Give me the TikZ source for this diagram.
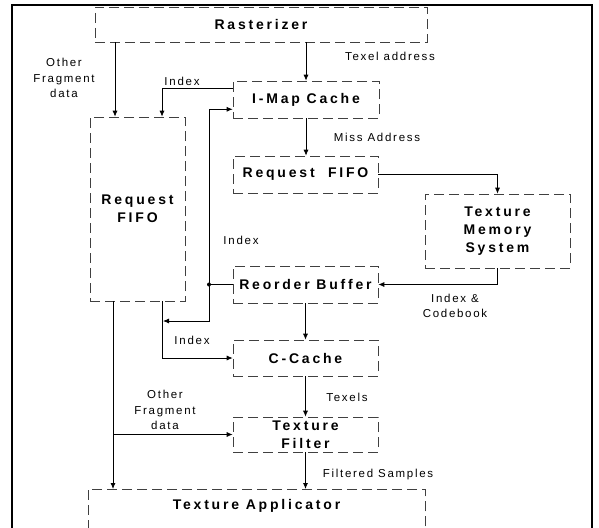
\documentclass[tikz,border=0pt]{standalone}
\usepackage{fontspec}
\setmainfont{Liberation Sans}
\newfontfamily\blockfont{Liberation Sans}[LetterSpace=20]
\newfontfamily\labelfont{Liberation Sans}[LetterSpace=15]
\usepackage{tikz}
\usetikzlibrary{
  arrows.meta,
  positioning,
  calc
}
\tikzstyle{blockbox} = [
  rectangle, draw=black!75, dash pattern=on 10pt off 5pt, line width=0.6pt,
  align=center, inner sep=0pt,
  font=\fontsize{14}{18}\selectfont\blockfont\bfseries
]
\tikzstyle{sigtext} = [
  align=center, inner sep=0pt,
  font=\fontsize{11.5}{15.5}\selectfont\labelfont
]
\tikzstyle{arrowstyle} = [-{Latex[length=6pt,width=5pt]}, line width=0.8pt]

\begin{document}
\begin{tikzpicture}[x=1pt, y=-1pt]
\useasboundingbox (0,0) rectangle (599,527);

% --- Frame ---
\draw[line width=1.5pt] (12,5) rectangle (592,545);

% --- Nodes ---
\node[blockbox, minimum width=332pt, minimum height=35pt] (raster) at (261,24.5) {Rasterizer};
\node[blockbox, minimum width=146pt, minimum height=37pt] (imap) at (306,99.5) {I-Map Cache};
\node[blockbox, minimum width=95pt, minimum height=184pt] (reqbig) at (137.5,209) {Request\\FIFO};
\node[blockbox, minimum width=145pt, minimum height=37pt] (reqsmall) at (305.5,174.5) {Request~~FIFO};
\node[blockbox, minimum width=145pt, minimum height=74pt] (tms) at (497.5,231) {Texture\\Memory\\System};
\node[blockbox, minimum width=145pt, minimum height=37pt] (reorder) at (305.5,284.5) {Reorder Buffer};
\node[blockbox, minimum width=145pt, minimum height=36pt] (ccache) at (305.5,358) {C-Cache};
\node[blockbox, minimum width=145pt, minimum height=35pt] (filter) at (305.5,434.5) {Texture\\Filter};
\node[blockbox, anchor=north, minimum width=337pt, text height=20pt, text depth=40pt] (applic) at (256.5,489) {Texture Applicator};

% --- Columns ---
\coordinate (ofdcol) at (115,0);
\coordinate (idxcol) at (162,0);
\coordinate (fbcol) at (209,0);
\coordinate (lowcol) at (113,0);
\coordinate (jn) at (fbcol |- reorder.west);
\coordinate (idxhit) at (163,321);

% --- Arrows ---
\draw[arrowstyle] (raster.south -| ofdcol) -- (reqbig.north -| ofdcol);
\draw[arrowstyle] (raster.south -| imap.north) -- (imap.north);
\draw[arrowstyle] ([yshift=-8pt]imap.north west) -| (reqbig.north -| idxcol);
\draw[arrowstyle] (reorder.west) -- (jn) |- ([yshift=9pt]imap.south west);
\fill (jn) circle (2pt);
\draw[arrowstyle] (jn) |- (idxhit);
\draw[arrowstyle] (reqbig.south -| idxcol) |- (ccache.west);
\draw[arrowstyle] (imap.south) -- (imap.south |- reqsmall.north);
\draw[arrowstyle] (reqsmall.east) -| (tms.north);
\draw[arrowstyle] (tms.south) |- (reorder.east);
\draw[arrowstyle] (reorder.south) -- (ccache.north);
\draw[arrowstyle] (ccache.south) -- (filter.north);
\draw[arrowstyle] (reqbig.south -| lowcol) -- (applic.north -| lowcol);
\draw[arrowstyle] (lowcol |- filter.west) -- (filter.west);
\draw[arrowstyle] (filter.south) -- (filter.south |- applic.north);

% --- Labels ---
\node[sigtext] (ofdtop) at (64,78) {Other\\Fragment\\data};
\node[sigtext] (idxtop) at (182,81) {Index};
\node[sigtext] (texeladdr) at (390,56) {Texel address};
\node[sigtext] (missaddr) at (377,137) {Miss Address};
\node[sigtext] (idxmid) at (241,240) {Index};
\node[sigtext] (codebook) at (455,306) {Index \&\\Codebook};
\node[sigtext] (idxlow) at (192,340) {Index};
\node[sigtext] (texels) at (347,397) {Texels};
\node[sigtext] (ofdlow) at (165,410) {Other\\Fragment\\data};
\node[sigtext] (filtsamp) at (378,475) {Filtered Samples};

\end{tikzpicture}
\end{document}
